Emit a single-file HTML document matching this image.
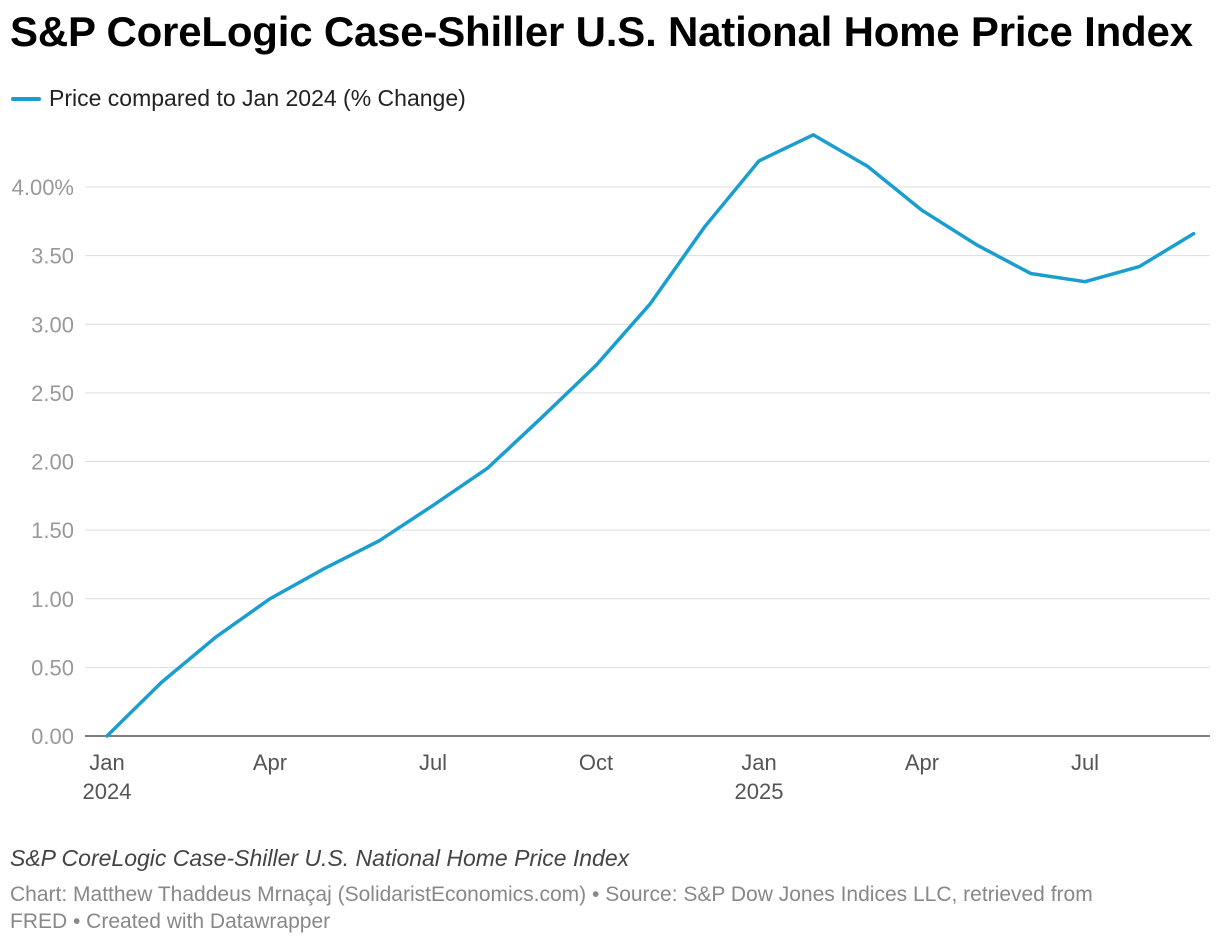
<!DOCTYPE html>
<html><head><meta charset="utf-8">
<style>
body{margin:0;background:#fff;font-family:"Liberation Sans",Arial,sans-serif;}
#wrap{position:relative;width:1220px;height:946px;overflow:hidden;}
h1{position:absolute;left:10px;top:8px;margin:0;font-size:42px;font-weight:bold;color:#000;letter-spacing:-0.2px;white-space:nowrap;}
.legend{position:absolute;left:11px;top:85px;font-size:23px;color:#222;display:flex;align-items:center;}
.legend span.sw{display:inline-block;width:30px;height:4px;background:#1a9ecf;margin-right:8px;border-radius:2px;}
.note{position:absolute;left:10px;top:845px;font-size:23px;font-style:italic;color:#444;white-space:nowrap;}
.src{position:absolute;left:10px;top:881px;font-size:21px;color:#888;line-height:27px;width:1100px;}
</style></head>
<body>
<div id="wrap">
<h1>S&amp;P CoreLogic Case-Shiller U.S. National Home Price Index</h1>
<div class="legend"><span class="sw"></span>Price compared to Jan 2024 (% Change)</div>
<svg id="chart" width="1220" height="946" style="position:absolute;left:0;top:0"></svg>
<div class="note">S&amp;P CoreLogic Case-Shiller U.S. National Home Price Index</div>
<div class="src">Chart: Matthew Thaddeus Mrnaçaj (SolidaristEconomics.com) • Source: S&amp;P Dow Jones Indices LLC, retrieved from FRED • Created with Datawrapper</div>
</div>
<script>
const values=[0,0.39,0.72,1.00,1.22,1.42,1.68,1.95,2.32,2.70,3.15,3.71,4.19,4.38,4.15,3.83,3.58,3.37,3.31,3.42,3.66];
const yTicks=[0,0.5,1,1.5,2,2.5,3,3.5,4];
const yTickLabels=["0.00","0.50","1.00","1.50","2.00","2.50","3.00","3.50","4.00%"];
const xTickIdx=[0,3,6,9,12,15,18];
const xTickLabels=["Jan","Apr","Jul","Oct","Jan","Apr","Jul"];
const xYearLabels=["2024","","","","2025","",""];

const NS="http://www.w3.org/2000/svg";
const svg=document.getElementById('chart');
const x=i=>107+i*(652/12);
const y=v=>736-v*(549/4);
function mk(t,a){const e=document.createElementNS(NS,t);for(const k in a)e.setAttribute(k,a[k]);svg.appendChild(e);return e;}
yTicks.forEach((v,i)=>{
  const l=mk('line',{x1:85,x2:1210,y1:y(v),y2:y(v),stroke:i===0?'#333':'#ddd','stroke-width':i===0?1.3:1});
  
  
  const t=mk('text',{x:74,y:y(v)+8,'text-anchor':'end','font-size':22,fill:'#999','font-family':'Liberation Sans, Arial, sans-serif'});
  t.textContent=yTickLabels[i];
  
  
});
xTickIdx.forEach((idx,i)=>{
  const t=mk('text',{x:x(idx),y:770,'text-anchor':'middle','font-size':22,fill:'#555','font-family':'Liberation Sans, Arial, sans-serif'});
  t.textContent=xTickLabels[i];
  
  
  if(xYearLabels[i]){
    const t2=mk('text',{x:x(idx),y:799,'text-anchor':'middle','font-size':22,fill:'#555','font-family':'Liberation Sans, Arial, sans-serif'});
    t2.textContent=xYearLabels[i];
    
    
  }
});
const p=mk('polyline',{points:values.map((v,i)=>x(i)+','+y(v)).join(' '),fill:'none',stroke:'#1a9ecf','stroke-width':3.5,'stroke-linejoin':'round','stroke-linecap':'round'});


</script>
</body></html>
